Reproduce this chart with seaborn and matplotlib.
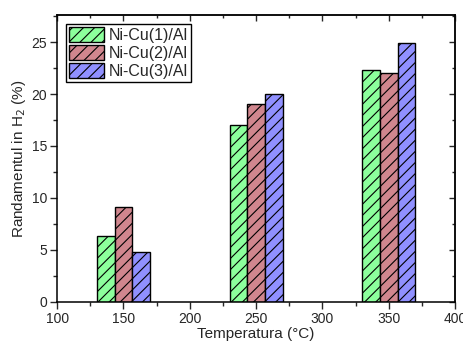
import matplotlib
matplotlib.use("Agg")
import matplotlib.pyplot as plt
import seaborn as sns
import pandas as pd
from matplotlib.ticker import MultipleLocator, NullFormatter

temps = [150, 250, 350]
series = ["Ni-Cu(1)/Al", "Ni-Cu(2)/Al", "Ni-Cu(3)/Al"]
v1 = [6.3, 17.05, 22.3]
v2 = [9.12, 19.0, 22.0]
v3 = [4.78, 19.97, 24.9]
colors = ["#8CFF9C", "#D0868E", "#9090FF"]

rows = []
for name, vals in zip(series, [v1, v2, v3]):
    for t, v in zip(temps, vals):
        rows.append({"T": t, "Y": v, "S": name})
df = pd.DataFrame(rows)

sns.set_style("ticks")
plt.rcParams['font.family'] = ['Liberation Sans', 'DejaVu Sans']
plt.rcParams['hatch.linewidth'] = 0.8

fig = plt.figure(figsize=(4.64, 3.43), dpi=100)
ax = fig.add_axes([0.123, 0.12, 0.858, 0.836])

sns.barplot(data=df, x="T", y="Y", hue="S", hue_order=series, palette=colors,
            native_scale=True, width=0.4, dodge=True, ax=ax, legend=False,
            edgecolor="black", linewidth=1.0, saturation=1, errorbar=None)

for cont in ax.containers:
    for p in cont:
        p.set_hatch("///")

ax.set_xlim(100, 400)
ax.set_ylim(0, 27.6)
ax.xaxis.set_major_locator(MultipleLocator(50))
ax.xaxis.set_minor_locator(MultipleLocator(25))
ax.yaxis.set_major_locator(MultipleLocator(5))
ax.yaxis.set_minor_locator(MultipleLocator(2.5))
ax.tick_params(axis='both', which='major', direction='out', length=5, width=1, labelsize=10, pad=2)
ax.tick_params(axis='both', which='minor', direction='out', length=3, width=1)
for side in ["top", "bottom", "left", "right"]:
    ax.spines[side].set_visible(True)
    ax.spines[side].set_linewidth(1.1)
    ax.spines[side].set_color("black")

secx = ax.secondary_xaxis('top')
secx.xaxis.set_major_locator(MultipleLocator(50))
secx.xaxis.set_minor_locator(MultipleLocator(25))
secx.xaxis.set_major_formatter(NullFormatter())
secx.tick_params(which='major', direction='in', length=4, width=1)
secx.tick_params(which='minor', direction='in', length=2.5, width=1)
secx.spines['top'].set_linewidth(1.1)
secy = ax.secondary_yaxis('right')
secy.yaxis.set_major_locator(MultipleLocator(5))
secy.yaxis.set_minor_locator(MultipleLocator(2.5))
secy.yaxis.set_major_formatter(NullFormatter())
secy.tick_params(which='major', direction='in', length=4, width=1)
secy.tick_params(which='minor', direction='in', length=2.5, width=1)
secy.spines['right'].set_linewidth(1.1)

ax.set_xlabel("Temperatura (°C)", fontsize=11, labelpad=1)
ax.set_ylabel("Randamentul in H$_2$ (%)", fontsize=11, labelpad=3)

handles = [cont.patches[0] for cont in ax.containers]
leg = ax.legend(handles, series, loc="upper left", fontsize=11.5, frameon=True,
                fancybox=False, edgecolor="black", framealpha=1,
                handlelength=2.2, handleheight=1.1, borderpad=0.2,
                labelspacing=0.12, handletextpad=0.3, borderaxespad=0.55)
leg.get_frame().set_linewidth(1.0)

fig.savefig("out.png", dpi=100)
